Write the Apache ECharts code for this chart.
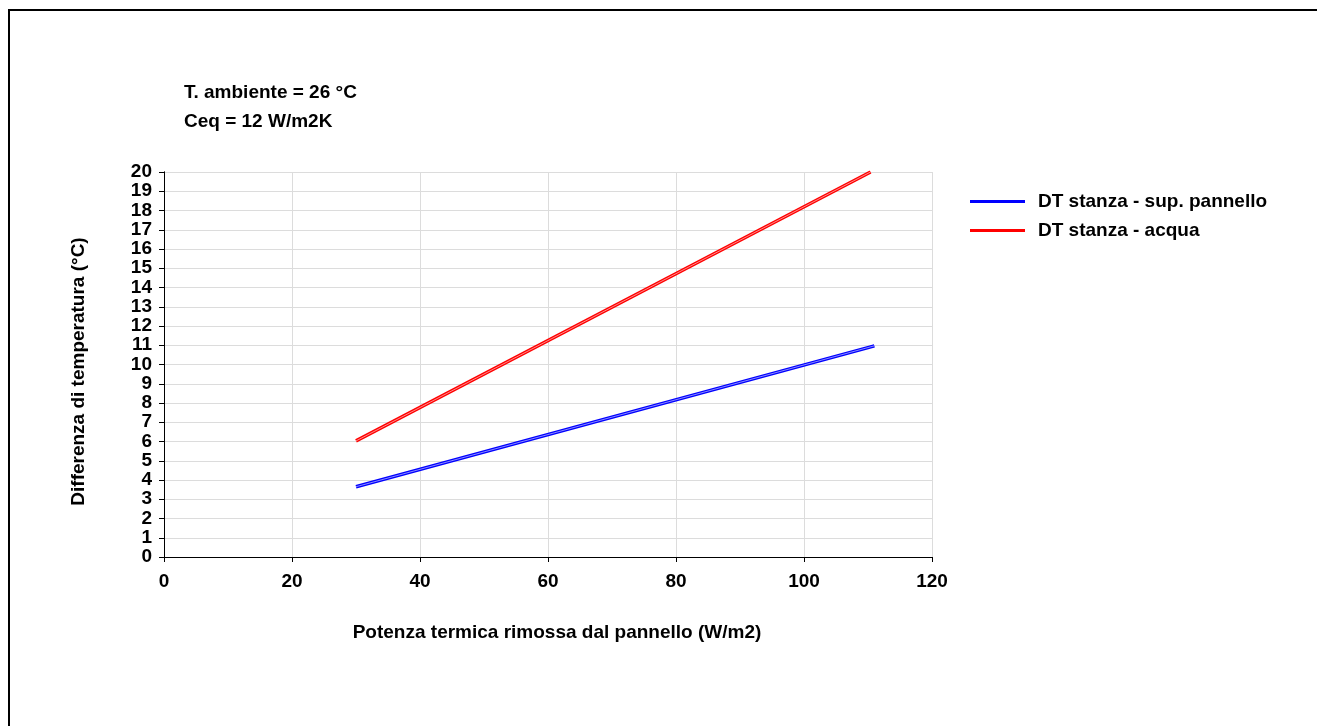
<!DOCTYPE html>
<html>
<head>
<meta charset="utf-8">
<script src="https://cdn.jsdelivr.net/npm/echarts@6/dist/echarts.min.js"></script>
<style>
  html, body { margin: 0; padding: 0; background: #fff; }
  #chart { width: 1317px; height: 726px; }
</style>
</head>
<body>
<div id="chart"></div>
<script>
// dati
const seriesNames = ["DT stanza - sup. pannello", "DT stanza - acqua"];
const seriesColors = ["#0000ff", "#ff0000"];
const supPannello = [[30, 3.65], [111, 10.97]];
const acqua = [[30, 6.03], [110.4, 20]];
const notes = ["T. ambiente = 26 °C", "Ceq = 12 W/m2K"];

const font = "'Liberation Sans', Arial, sans-serif";
const chart = echarts.init(document.getElementById("chart"));

// linea doppia: colore pieno + filo chiaro al centro
const makeSeries = (name, data, color) => ([
  {
    name: name,
    type: "line",
    data: data,
    showSymbol: false,
    lineStyle: { color: color, width: 3.5 },
    itemStyle: { color: color },
    z: 3
  },
  {
    name: name + "_hl",
    type: "line",
    data: data,
    showSymbol: false,
    silent: true,
    lineStyle: { color: "rgba(255,255,255,0.55)", width: 1 },
    z: 4
  }
]);

const frameAxis = { show: true, lineStyle: { color: "#000", width: 1 } };

chart.setOption({
  animation: false,
  backgroundColor: "#fff",
  textStyle: { fontFamily: font },
  grid: { left: 164, right: 385, top: 172, bottom: 169 },
  legend: {
    data: seriesNames,
    orient: "vertical",
    left: 965,
    top: 187,
    icon: "rect",
    itemWidth: 55,
    itemHeight: 3,
    itemGap: 10,
    textStyle: { fontFamily: font, fontWeight: "bold", fontSize: 19, color: "#000", padding: [0, 0, 0, 8] }
  },
  graphic: [
    {
      type: "rect",
      shape: { x: 9, y: 10, width: 1400, height: 800 },
      style: { fill: "none", stroke: "#000", lineWidth: 2 },
      silent: true
    },
    {
      type: "text", left: 184, top: 83,
      style: { text: notes[0], font: "bold 19px " + font, fill: "#000" }
    },
    {
      type: "text", left: 184, top: 112,
      style: { text: notes[1], font: "bold 19px " + font, fill: "#000" }
    }
  ],
  xAxis: [
    {
      type: "value",
      min: 0, max: 120, interval: 20,
      name: "Potenza termica rimossa dal pannello (W/m2)",
      nameLocation: "middle",
      nameGap: 66,
      nameTextStyle: { fontFamily: font, fontWeight: "bold", fontSize: 19, color: "#000", padding: [0, 0, 0, 18] },
      axisLine: frameAxis,
      axisTick: { show: true, length: 5, lineStyle: { color: "#000" } },
      axisLabel: { fontFamily: font, fontWeight: "bold", fontSize: 19, color: "#000", margin: 15 },
      splitLine: { show: true, lineStyle: { color: "#dcdcdc", width: 1 } }
    },
    {
      type: "value", position: "top",
      min: 0, max: 120,
      axisLine: frameAxis, axisTick: { show: false }, axisLabel: { show: false }, splitLine: { show: false }
    }
  ],
  yAxis: [
    {
      type: "value",
      min: 0, max: 20, interval: 1,
      name: "Differenza di temperatura (°C)",
      nameLocation: "middle",
      nameGap: 76,
      nameRotate: 90,
      nameTextStyle: { fontFamily: font, fontWeight: "bold", fontSize: 19, color: "#000", padding: [0, 14, 0, 0] },
      axisLine: frameAxis,
      axisTick: { show: true, length: 5, lineStyle: { color: "#000" } },
      axisLabel: { fontFamily: font, fontWeight: "bold", fontSize: 19, color: "#000", margin: 12 },
      splitLine: { show: true, lineStyle: { color: "#dcdcdc", width: 1 } }
    },
    {
      type: "value", position: "right",
      min: 0, max: 20,
      axisLine: frameAxis, axisTick: { show: false }, axisLabel: { show: false }, splitLine: { show: false }
    }
  ],
  series: [
    ...makeSeries(seriesNames[0], supPannello, seriesColors[0]),
    ...makeSeries(seriesNames[1], acqua, seriesColors[1])
  ]
});
</script>
</body>
</html>
